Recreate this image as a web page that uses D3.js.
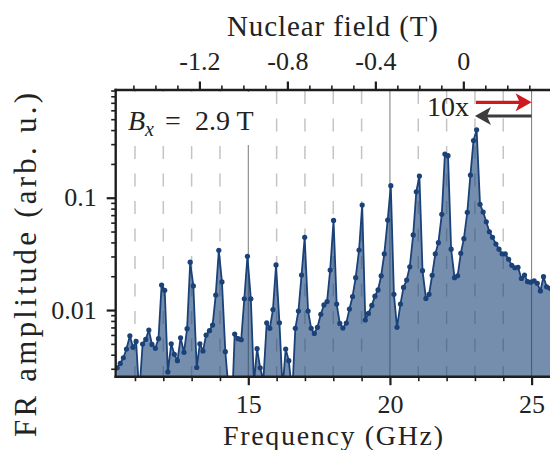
<!DOCTYPE html>
<html>
<head>
<meta charset="utf-8">
<script src="https://cdn.jsdelivr.net/npm/d3@7"></script>
<style>
  html, body { margin: 0; padding: 0; background: #fff; }
  svg { display: block; }
</style>
</head>
<body>
<svg id="chart" width="550" height="450"></svg>
<script>
// Sampled drive frequencies (GHz)
const frequencies = [
  10.37, 10.48, 10.59, 10.70, 10.82, 10.93, 11.04, 11.15, 11.27, 11.38,
  11.49, 11.60, 11.72, 11.83, 11.94, 12.05, 12.16, 12.28, 12.39, 12.50,
  12.61, 12.73, 12.84, 12.95, 13.06, 13.18, 13.29, 13.40, 13.51, 13.63,
  13.74, 13.85, 13.96, 14.07, 14.19, 14.30, 14.41, 14.52, 14.64, 14.75,
  14.86, 14.97, 15.09, 15.20, 15.31, 15.42, 15.53, 15.65, 15.76, 15.87,
  15.98, 16.10, 16.21, 16.32, 16.43, 16.55, 16.66, 16.77, 16.88, 16.99,
  17.11, 17.22, 17.33, 17.44, 17.56, 17.67, 17.78, 17.89, 18.01, 18.12,
  18.23, 18.34, 18.46, 18.57, 18.68, 18.79, 18.91, 19.02, 19.13, 19.24,
  19.36, 19.47, 19.58, 19.69, 19.80, 19.92, 20.03, 20.14, 20.25, 20.37,
  20.48, 20.59, 20.70, 20.82, 20.93, 21.04, 21.15, 21.27, 21.38, 21.49,
  21.60, 21.71, 21.83, 21.94, 22.05, 22.16, 22.28, 22.39, 22.50, 22.61,
  22.73, 22.84, 22.95, 23.06, 23.18, 23.29, 23.40, 23.51, 23.62, 23.74,
  23.85, 23.96, 24.07, 24.19, 24.30, 24.41, 24.52, 24.64, 24.75, 24.86,
  24.97, 25.09, 25.20, 25.31, 25.42, 25.53, 25.65
];

// FR amplitude (arb. u.) at each frequency
const amplitudes = [
  0.00306, 0.00335, 0.00376, 0.00450, 0.00590, 0.00466, 0.00526, 0.00178, 0.00498, 0.00548,
  0.00664, 0.00494, 0.00456, 0.00556, 0.0167, 0.0150, 0.00281, 0.00501, 0.00403, 0.00354,
  0.00566, 0.00420, 0.00682, 0.0267, 0.0164, 0.00308, 0.00501, 0.00432, 0.00598, 0.00655,
  0.00735, 0.0136, 0.0340, 0.0178, 0.00426, 0.00200, 0.00112, 0.00611, 0.00556, 0.00545,
  0.0126, 0.0301, 0.0126, 0.00224, 0.00453, 0.00306, 0.00234, 0.00771, 0.00687, 0.0101,
  0.0252, 0.00771, 0.00200, 0.00450, 0.00354, 0.00178, 0.00687, 0.00980, 0.0205, 0.0444,
  0.00980, 0.00687, 0.00619, 0.00702, 0.00916, 0.0111, 0.0119, 0.0227, 0.0628, 0.0113,
  0.00760, 0.00692, 0.00766, 0.0102, 0.0132, 0.0194, 0.0342, 0.0861, 0.00815, 0.00933,
  0.0110, 0.0133, 0.0151, 0.0202, 0.0316, 0.0632, 0.128, 0.0138, 0.00702, 0.0113,
  0.0159, 0.0185, 0.0243, 0.0466, 0.113, 0.156, 0.0224, 0.0127, 0.0138, 0.0204,
  0.0316, 0.0398, 0.0711, 0.245, 0.237, 0.0348, 0.0194, 0.0202, 0.0319, 0.0432,
  0.0741, 0.159, 0.323, 0.402, 0.0873, 0.0746, 0.0611, 0.0498, 0.0444, 0.0387,
  0.0348, 0.0316, 0.0316, 0.0283, 0.0250, 0.0238, 0.0240, 0.0191, 0.0205, 0.0179,
  0.0177, 0.0182, 0.0173, 0.0148, 0.0198, 0.0161, 0.0156
];

// Axis ticks
const freqMajorTicks = [15, 20, 25];
const freqMinorTicks = [11, 12, 13, 14, 16, 17, 18, 19, 21, 22, 23, 24];
const fieldMajorTicks = [-1.2, -0.8, -0.4, 0];
const fieldMinorTicks = [-1.5, -1.4, -1.3, -1.1, -1.0, -0.9, -0.7, -0.6, -0.5, -0.3, -0.2, -0.1, 0.1, 0.2, 0.3];
const ampMajorTicks = [0.01, 0.1];
const ampMinorTicks = [0.003, 0.004, 0.005, 0.006, 0.007, 0.008, 0.009,
                       0.02, 0.03, 0.04, 0.05, 0.06, 0.07, 0.08, 0.09,
                       0.2, 0.3, 0.4, 0.5, 0.6, 0.7, 0.8, 0.9];

// Conversion between drive frequency and nuclear field for the top axis
const zeroFieldFreq = 22.59;   // GHz
const freqPerTesla = 7.763;    // GHz / T

// Frequency range of the arrows (GHz)
const arrowSpan = [23, 25];

const fieldLabel = "Bx";
const fieldValue = "2.9 T";

// ----------------------------------------------------------------------
const serif = '"Liberation Serif"';
const face = sel => sel.style("font-family", serif);
const svg = d3.select("#chart");
const L = 115.7, R = 552, T = 90, B = 376.7;
const freqDomain = [10.32, 25.72];

const x = d3.scaleLinear().domain(freqDomain).range([L, R]);
const xTop = d3.scaleLinear()
  .domain(freqDomain.map(f => (f - zeroFieldFreq) / freqPerTesla))
  .range([L, R]);
const y = d3.scaleLog().domain([0.00255, 0.91]).range([B, T]);

const data = frequencies.map((f, i) => ({ f, a: amplitudes[i] }));

svg.append("defs").append("clipPath").attr("id", "plotClip")
  .append("rect").attr("x", L).attr("y", T).attr("width", R - L).attr("height", B - T);

// Vertical guide lines
const grid = svg.append("g");
grid.selectAll("line.minor").data(freqMinorTicks).join("line")
  .attr("class", "minor")
  .attr("x1", d => x(d)).attr("x2", d => x(d))
  .attr("y1", T + 1).attr("y2", B)
  .attr("stroke", "#c4c4c4").attr("stroke-width", 1.5)
  .attr("stroke-dasharray", "13,14.5");
grid.selectAll("line.major").data(freqMajorTicks).join("line")
  .attr("class", "major")
  .attr("x1", d => x(d)).attr("x2", d => x(d))
  .attr("y1", T).attr("y2", B)
  .attr("stroke", "#7a7a7a").attr("stroke-width", 1);

// Label background
svg.append("rect").attr("x", 118).attr("y", 92).attr("width", 140).attr("height", 53)
  .attr("fill", "#fff");

// Spectrum
const navy = "#1b4278";
const plot = svg.append("g").attr("clip-path", "url(#plotClip)");
plot.append("path").datum(data)
  .attr("d", d3.area().x(d => x(d.f)).y0(B).y1(d => y(d.a)))
  .attr("fill", navy).attr("fill-opacity", 0.6);
plot.append("path").datum(data)
  .attr("d", d3.line().x(d => x(d.f)).y(d => y(d.a)))
  .attr("fill", "none").attr("stroke", navy).attr("stroke-width", 1.8)
  .attr("stroke-linejoin", "round");
plot.selectAll("circle").data(data).join("circle")
  .attr("cx", d => x(d.f)).attr("cy", d => y(d.a)).attr("r", 2.6)
  .attr("fill", navy);

// Axes
const axisColor = "#1e1e1e";
function styleAxis(g, width) {
  g.attr("font-family", null).attr("font-size", null);
  g.select(".domain").remove();
  g.selectAll(".tick line").attr("stroke", axisColor).attr("stroke-width", width);
}

const gB = svg.append("g").attr("transform", `translate(0,${B})`);
gB.append("g").call(d3.axisBottom(x).tickValues(freqMinorTicks).tickSize(4.5).tickFormat(""))
  .call(g => styleAxis(g, 1.6));
gB.append("g").call(d3.axisBottom(x).tickValues(freqMajorTicks).tickSize(8.5).tickFormat(d3.format("d")))
  .call(g => styleAxis(g, 2.2))
  .call(g => g.selectAll(".tick text").attr("y", 36).attr("dy", null)
    .attr("font-size", 26).attr("fill", "#222").call(face));

const gT = svg.append("g").attr("transform", `translate(0,${T})`);
gT.append("g").call(d3.axisTop(xTop).tickValues(fieldMinorTicks).tickSize(4.5).tickFormat(""))
  .call(g => styleAxis(g, 1.6));
gT.append("g").call(d3.axisTop(xTop).tickValues(fieldMajorTicks).tickSize(8.5)
    .tickFormat(d => d === 0 ? "0" : d3.format(".1f")(d).replace("\u2212", "-")))
  .call(g => styleAxis(g, 2.2))
  .call(g => g.selectAll(".tick text").attr("y", -20).attr("dy", null)
    .attr("font-size", 26).attr("fill", "#222").call(face));

const gL = svg.append("g").attr("transform", `translate(${L},0)`);
gL.append("g").call(d3.axisLeft(y).tickValues(ampMinorTicks).tickSize(4.5).tickFormat(""))
  .call(g => styleAxis(g, 1.6));
gL.append("g").call(d3.axisLeft(y).tickValues(ampMajorTicks).tickSize(9).tickFormat(d => String(d)))
  .call(g => styleAxis(g, 2.2))
  .call(g => g.selectAll(".tick text").attr("x", -19).attr("y", 8).attr("dy", null)
    .attr("font-size", 26).attr("fill", "#222").call(face));

// Spines
const spines = svg.append("g").attr("stroke", axisColor).attr("stroke-width", 2.4)
  .attr("stroke-linecap", "square");
spines.append("line").attr("x1", L).attr("x2", L).attr("y1", T).attr("y2", B);
spines.append("line").attr("x1", L).attr("x2", R).attr("y1", T).attr("y2", T);
spines.append("line").attr("x1", L).attr("x2", R).attr("y1", B).attr("y2", B);

// Axis titles
svg.append("text").call(face).attr("x", 333).attr("y", 444.5).attr("text-anchor", "middle")
  .attr("font-size", 28).attr("fill", "#222")
  .attr("textLength", 220).attr("lengthAdjust", "spacing")
  .text("Frequency (GHz)");
svg.append("text").call(face).attr("x", 332.5).attr("y", 35.5).attr("text-anchor", "middle")
  .attr("font-size", 29).attr("fill", "#222")
  .attr("textLength", 211).attr("lengthAdjust", "spacing")
  .text("Nuclear field (T)");
svg.append("text").call(face)
  .attr("transform", "translate(36,265) rotate(-90)")
  .attr("text-anchor", "middle")
  .attr("font-size", 31).attr("fill", "#222")
  .attr("textLength", 344).attr("lengthAdjust", "spacing")
  .text("FR amplitude (arb. u.)");

// Field annotation
const ann = svg.append("text").call(face).attr("x", 128).attr("y", 130).attr("font-size", 28).attr("fill", "#222");
ann.append("tspan").attr("font-style", "italic").text(fieldLabel[0]);
ann.append("tspan").attr("font-style", "italic").attr("font-size", 20).attr("dy", 6).text(fieldLabel[1]);
ann.append("tspan").attr("x", 165).attr("dy", -6).text("=");
ann.append("tspan").attr("x", 195).text(fieldValue);

// Arrows
const aFrom = x(arrowSpan[0]), aTo = x(arrowSpan[1]);
const red = "#cc1a1f", dark = "#3c3c3c";
svg.append("line").attr("x1", aFrom + 1).attr("x2", aTo - 10).attr("y1", 102.3).attr("y2", 102.3)
  .attr("stroke", red).attr("stroke-width", 3.2);
svg.append("path")
  .attr("d", `M${aTo},102.3 L${aTo - 16},93.3 L${aTo - 12},102.3 L${aTo - 16},111.3 Z`)
  .attr("fill", red);
svg.append("line").attr("x1", aFrom + 10).attr("x2", aTo).attr("y1", 116).attr("y2", 116)
  .attr("stroke", dark).attr("stroke-width", 3.2);
svg.append("path")
  .attr("d", `M${aFrom},116 L${aFrom + 16},107 L${aFrom + 12},116 L${aFrom + 16},125 Z`)
  .attr("fill", dark);
svg.append("text").call(face).attr("x", 427).attr("y", 116).attr("font-size", 28).attr("fill", "#222").text("10x");
</script>
</body>
</html>
